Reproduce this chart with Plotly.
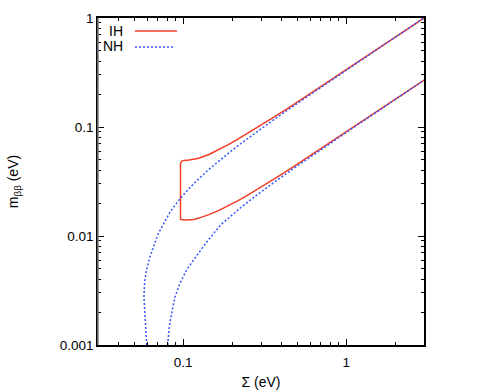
import plotly.graph_objects as go

# values (Sigma in eV, m_bb in eV)
ih_upper_x = [0.0962, 0.0978, 0.101, 0.1087, 0.1162, 0.1246, 0.1438, 0.1655, 0.1891,
              0.2141, 0.2402, 0.2806, 0.3222, 0.3788, 0.4652, 0.6115, 0.7593,
              1.0567, 1.5047, 2.1033, 3.0023]
ih_upper_y = [0.0464, 0.0485, 0.0494, 0.0499, 0.0505, 0.0516, 0.056, 0.0621, 0.069,
              0.0766, 0.0847, 0.0974, 0.1108, 0.1291, 0.1574, 0.2056, 0.2545,
              0.3532, 0.5023, 0.7016, 1.0011]
ih_lower_x = [0.0962, 0.1022, 0.1087, 0.1162, 0.1246, 0.1438, 0.1655, 0.1891, 0.2141,
              0.2402, 0.2806, 0.3222, 0.3788, 0.4652, 0.6115, 0.7593, 1.0567,
              1.5047, 2.1033, 3.0023]
ih_lower_y = [0.0142, 0.014, 0.014, 0.0142, 0.0146, 0.0157, 0.0172, 0.0189, 0.0209,
              0.023, 0.0264, 0.03, 0.0349, 0.0424, 0.0554, 0.0685, 0.095,
              0.1351, 0.1886, 0.2691]

nh_upper_x = [0.0597, 0.0588, 0.0578, 0.0574, 0.058, 0.0595, 0.0625, 0.0655, 0.0703,
              0.0831, 0.0942, 0.106, 0.1182, 0.1438, 0.1704, 0.1978, 0.2257, 0.2683,
              0.3115, 0.3697, 0.4579, 0.606, 0.7548, 1.0534, 1.5024, 2.1017, 3.0012]
nh_upper_y = [0.001, 0.00158, 0.00225, 0.00277, 0.0038, 0.00488, 0.00646, 0.00798, 0.0105,
              0.01665, 0.0214, 0.0262, 0.0311, 0.0409, 0.0507, 0.0606, 0.0706, 0.0855,
              0.1004, 0.1203, 0.1503, 0.2002, 0.2502, 0.3501, 0.5001, 0.7001, 1.0]
nh_lower_x = [0.0803, 0.0821, 0.0849, 0.089, 0.0955, 0.105, 0.121, 0.1393, 0.1704,
              0.1978, 0.2257, 0.2683, 0.3115, 0.3697, 0.4579, 0.606, 0.7548,
              1.0534, 1.5024, 2.1017, 3.0012]
nh_lower_y = [0.001, 0.00147, 0.00195, 0.00277, 0.00368, 0.0049, 0.0066, 0.0088, 0.01272,
              0.0155, 0.01827, 0.02239, 0.02649, 0.03192, 0.04005, 0.05356, 0.06704,
              0.09396, 0.13432, 0.1881, 0.26876]

RED = "#f23c26"
BLUE = "#3355ff"
FONT = "Liberation Sans, Arial, Helvetica, sans-serif"

fig = go.Figure()

# IH: upper branch (right to left), vertical edge, then lower branch
fig.add_trace(go.Scatter(
    x=ih_upper_x[::-1] + ih_lower_x, y=ih_upper_y[::-1] + ih_lower_y,
    mode="lines", line=dict(color=RED, width=1.5), name="IH", showlegend=False))
fig.add_trace(go.Scatter(
    x=nh_upper_x, y=nh_upper_y, mode="lines",
    line=dict(color=BLUE, width=1.5, dash="2px,2px"), name="NH", showlegend=False))
fig.add_trace(go.Scatter(
    x=nh_lower_x, y=nh_lower_y, mode="lines",
    line=dict(color=BLUE, width=1.5, dash="2px,2px"), showlegend=False))

axis_common = dict(type="log", showgrid=False, zeroline=False, showline=True,
                   linecolor="black", linewidth=1.5, mirror="allticks",
                   ticks="inside", ticklen=6, tickwidth=1, tickcolor="black",
                   tickfont=dict(family=FONT, size=13.5, color="black"))

fig.update_xaxes(**axis_common, range=[-1.5229, 0.4771],
                 tickvals=[0.1, 1], ticktext=["0.1", "1"], ticklabelstandoff=4,
                 minor=dict(ticks="inside", ticklen=3, tickcolor="black",
                            tickvals=[0.04, 0.05, 0.06, 0.07, 0.08, 0.09,
                                      0.2, 0.3, 0.4, 0.5, 0.6, 0.7, 0.8, 0.9, 2, 3]),
                 title=dict(text="Σ (eV)", font=dict(family=FONT, size=14), standoff=8))
fig.update_yaxes(**axis_common, range=[-3, 0],
                 tickvals=[0.001, 0.01, 0.1, 1], ticktext=["0.001", "0.01", "0.1", "1"],
                 minor=dict(ticks="inside", ticklen=3, tickcolor="black",
                            tickvals=[0.002, 0.003, 0.004, 0.005, 0.006, 0.007, 0.008, 0.009,
                                      0.02, 0.03, 0.04, 0.05, 0.06, 0.07, 0.08, 0.09,
                                      0.2, 0.3, 0.4, 0.5, 0.6, 0.7, 0.8, 0.9]),
                 title=dict(text="m<sub>ββ</sub> (eV)", font=dict(family=FONT, size=14),
                            standoff=38))

# left frame edge is drawn grey in the reference
fig.add_shape(type="line", xref="paper", yref="paper", x0=0, x1=0, y0=0, y1=1,
              line=dict(color="#808080", width=1.5))

# gnuplot-style key in the top-left corner
fig.add_annotation(x=0.083, y=0.960, xref="paper", yref="paper", text="IH",
                   showarrow=False, xanchor="right", yanchor="middle",
                   font=dict(family=FONT, size=14, color="black"))
fig.add_annotation(x=0.083, y=0.914, xref="paper", yref="paper", text="NH",
                   showarrow=False, xanchor="right", yanchor="middle",
                   font=dict(family=FONT, size=14, color="black"))
fig.add_shape(type="line", xref="paper", yref="paper", x0=0.1135, x1=0.242,
              y0=0.960, y1=0.960, line=dict(color=RED, width=1.5))
fig.add_shape(type="line", xref="paper", yref="paper", x0=0.1135, x1=0.236,
              y0=0.911, y1=0.911, line=dict(color=BLUE, width=1.5, dash="2px,2px"))

fig.update_layout(width=482, height=392, template="plotly_white",
                  plot_bgcolor="white", paper_bgcolor="white",
                  margin=dict(l=98, r=58, t=18, b=47, autoexpand=False),
                  font=dict(family=FONT, size=14, color="black"))

# drop the page's default body margin so the figure sits at the window corner
fig.write_html("out.html", config={"displayModeBar": False},
               post_script="document.body.style.margin='0';")
